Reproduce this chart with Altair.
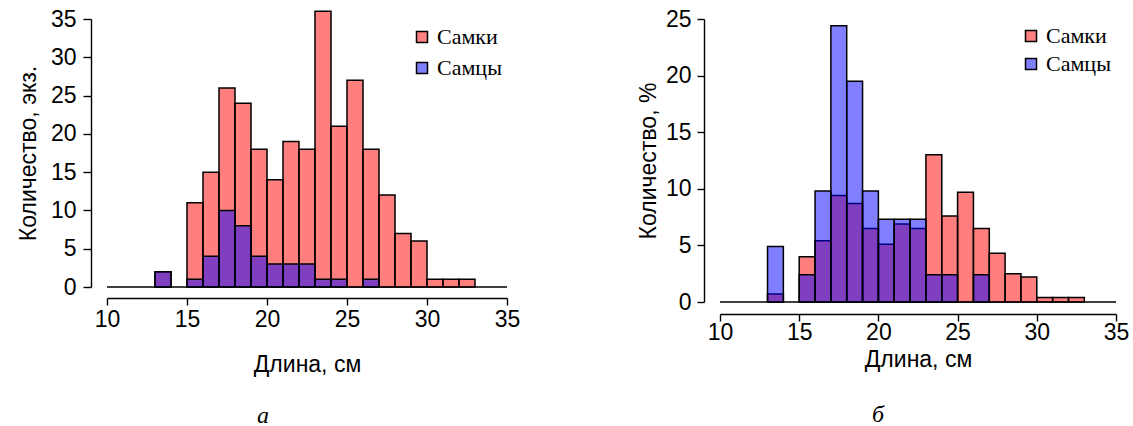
import altair as alt
import pandas as pd

# bins of 1 cm: [start, start+1)
bin_start = list(range(10, 35))

# panel а: counts, экз.
female_counts = [0, 0, 0, 2, 0, 11, 15, 26, 24, 18, 14, 19, 18, 36, 21, 27, 18, 12, 7, 6, 1, 1, 1, 0, 0]
male_counts = [0, 0, 0, 2, 0, 1, 4, 10, 8, 4, 3, 3, 3, 1, 1, 0, 1, 0, 0, 0, 0, 0, 0, 0, 0]

# panel б: percent
female_pct = [0, 0, 0, 0.7, 0, 4.0, 5.4, 9.4, 8.7, 6.5, 5.1, 6.9, 6.5, 13.0, 7.6, 9.7, 6.5, 4.3, 2.5, 2.2, 0.4, 0.4, 0.4, 0, 0]
male_pct = [0, 0, 0, 4.9, 0, 2.4, 9.8, 24.4, 19.5, 9.8, 7.3, 7.3, 7.3, 2.4, 2.4, 0, 2.4, 0, 0, 0, 0, 0, 0, 0, 0]

sex_labels = ["Самки", "Самцы"]
bar_colors = ["#FF0000", "#0000FF"]       # drawn at 50% fill opacity
legend_colors = ["#FF8080", "#8080FF"]    # the same colours as seen on white
x_ticks = [10, 15, 20, 25, 30, 35]
x_range = [10, 35]


def make_df(values):
    rows = []
    for s, v in zip(bin_start, values):
        if v > 0:
            rows.append({"start": s, "end": s + 1, "value": v, "base": 0})
    return pd.DataFrame(rows)


SANS = "Liberation Sans"
SERIF = "Liberation Serif"


def panel(f, m, ymax, yticks, ytitle, caption, width, height,
          xoff, xtick, xlabpad, xtitlepad,
          yoff, ytick, ylabpad, ytitlepad,
          legx, legy, legrowpad, capdx, capoff):
    xscale = alt.Scale(domain=x_range, nice=False, zero=False)
    yscale = alt.Scale(domain=[0, ymax], nice=False)
    xaxis = alt.Axis(values=x_ticks, title="Длина, см", grid=False, offset=xoff,
                     tickSize=xtick, labelPadding=xlabpad, titlePadding=xtitlepad,
                     labelFont=SANS, titleFont=SANS, labelFontSize=23, titleFontSize=23,
                     titleFontWeight="normal", labelColor="black", titleColor="black",
                     domainColor="black", tickColor="black", domainWidth=1.4, tickWidth=1.4,
                     labelFlush=False, labelOverlap=False)
    yaxis = alt.Axis(values=yticks, title=ytitle, grid=False, offset=yoff,
                     tickSize=ytick, labelPadding=ylabpad, titlePadding=ytitlepad,
                     labelFont=SANS, titleFont=SANS, labelFontSize=23, titleFontSize=23,
                     titleFontWeight="normal", labelColor="black", titleColor="black",
                     domainColor="black", tickColor="black", domainWidth=1.4, tickWidth=1.4,
                     labelFlush=False, labelOverlap=False)
    legend = alt.Legend(title=None, orient="none", legendX=legx, legendY=legy,
                        symbolType="square", symbolSize=121, symbolStrokeColor="black",
                        symbolStrokeWidth=1.5, labelFont=SERIF, labelFontSize=22,
                        labelColor="black", labelOffset=4, rowPadding=legrowpad)

    def bar_layer(vals, col):
        return alt.Chart(make_df(vals)).mark_rect(
            fill=col, fillOpacity=0.5, stroke="black", strokeWidth=1.5
        ).encode(
            x=alt.X("start:Q", scale=xscale, axis=xaxis),
            x2="end:Q",
            y=alt.Y("value:Q", scale=yscale, axis=yaxis),
            y2="base:Q",
        )

    fem = bar_layer(f, bar_colors[0])
    mal = bar_layer(m, bar_colors[1])

    # invisible layer that only carries the legend
    leg_df = pd.DataFrame({"sex": sex_labels})
    leg = alt.Chart(leg_df).mark_square(fillOpacity=0, strokeOpacity=0).encode(
        x=alt.value(0), y=alt.value(0),
        fill=alt.Fill("sex:N", scale=alt.Scale(domain=sex_labels, range=legend_colors),
                      legend=legend),
    )

    base_df = pd.DataFrame({"x0": [x_range[0]], "x1": [x_range[1]], "y0": [0]})
    baseline = alt.Chart(base_df).mark_rule(color="black", strokeWidth=1.4).encode(
        x=alt.X("x0:Q", scale=xscale, axis=xaxis),
        x2="x1:Q",
        y=alt.Y("y0:Q", scale=yscale, axis=yaxis),
    )
    return alt.layer(baseline, fem, mal, leg).properties(
        width=width, height=height,
        title=alt.TitleParams(caption, orient="bottom", anchor="middle", font=SERIF,
                              fontStyle="italic", fontWeight="normal", fontSize=24,
                              color="black", dx=capdx, offset=capoff),
    )


left = panel(female_counts, male_counts, 35, [0, 5, 10, 15, 20, 25, 30, 35],
             "Количество, экз.", "а", 400, 268,
             xoff=11, xtick=7, xlabpad=3, xtitlepad=22,
             yoff=16, ytick=8, ylabpad=7, ytitlepad=10,
             legx=304, legy=7, legrowpad=9, capdx=-44, capoff=28)

right = panel(female_pct, male_pct, 25, [0, 5, 10, 15, 20, 25],
              "Количество, %", "б", 396, 283,
              xoff=12, xtick=7, xlabpad=0, xtitlepad=4,
              yoff=16, ytick=7, ylabpad=6, ytitlepad=5,
              legx=300, legy=6, legrowpad=6, capdx=-40, capoff=32)

chart = alt.hconcat(left, right, spacing=117).resolve_scale(
    fill="independent", x="independent", y="independent"
).resolve_legend(fill="independent").properties(
    padding={"left": 17, "top": 8, "right": 0, "bottom": 0},
    background="white",
).configure_view(stroke=None)

chart.save("out.html", embed_options={"renderer": "svg", "actions": False})
